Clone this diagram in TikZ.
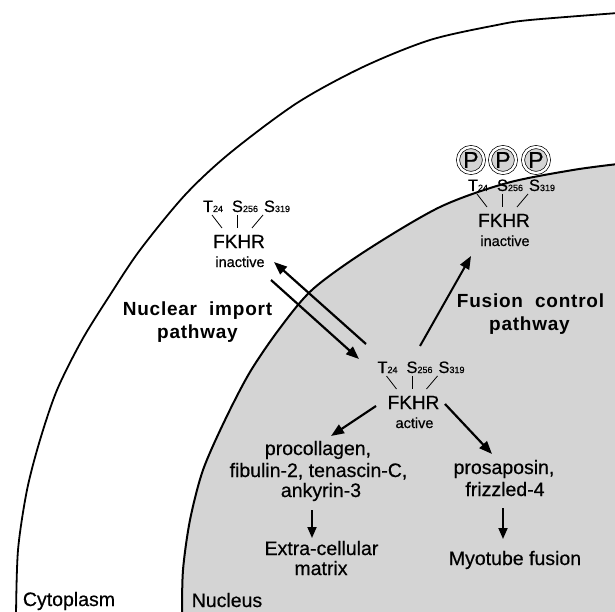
\documentclass[tikz,border=0pt]{standalone}
\usepackage{fontspec}
\setmainfont[FakeBold=0.5]{Liberation Sans}
\newfontfamily\trackfont[LetterSpace=4]{Liberation Sans}
\usetikzlibrary{arrows.meta,calc}
\definecolor{nucfill}{gray}{0.83}
\newcommand\fsz[1]{\fontsize{#1}{#1}\selectfont}
\newcommand\subnum[1]{{\fsz{9}#1}}
\newcommand\fkhrgroup[4]{%
  \node[fk] (#1F) at (#2,#3) {FKHR};
  \node[st] (#1A) at (#2+1,#3+19) {#4};
  \node[res] (#1T) at (#2-26,#3-36) {T\subnum{24}};
  \node[res] (#1S) at (#2+6,#3-36) {S\subnum{256}};
  \node[res] (#1R) at (#2+38,#3-36) {S\subnum{319}};
  \draw[resline] ($(#1T.base)+(-1,3)$) -- ($(#1F.base)+(-17,-20)$);
  \draw[resline] ($(#1S.base)+(-7.5,3)$) -- ($(#1F.base)+(-1.5,-20)$);
  \draw[resline] ($(#1R.base)+(-14,3)$) -- ($(#1F.base)+(13,-20)$);
}
\begin{document}
\begin{tikzpicture}[x=1pt,y=-1pt,
  txt/.style={inner sep=0pt, anchor=base, font=\fsz{19.5}},
  fk/.style={txt, font=\fsz{19}},
  st/.style={txt, font=\fsz{14.5}},
  res/.style={txt, font=\fsz{16.5}},
  resline/.style={line width=0.8pt},
  arr/.style={line width=2.2pt, -{Triangle[length=13pt,width=10pt]}},
  sarr/.style={line width=1.8pt, -{Triangle[length=11pt,width=9pt]}},
  pth/.style={txt, font=\trackfont\fsz{19}\bfseries},
  pcirc/.style={circle, draw=black, line width=0.7pt, double=white, double distance=2.4pt,
                fill=nucfill, minimum size=26pt, inner sep=0pt, font=\fsz{23}}]
\useasboundingbox (0,0) rectangle (615,612);
\fill[white] (0,0) rectangle (615,612);
\begin{scope}
\clip (0,0) rectangle (615,612);
\fill[nucfill] plot[smooth] coordinates {(182,616) (183,570) (190,520) (203,470) (225,420) (250,372) (280,328) (313,289) (367,250) (440,207) (507,183) (573,170) (618,164)} -- (620,620) -- cycle;
\draw[line width=2pt] plot[smooth] coordinates {(182,616) (183,570) (190,520) (203,470) (225,420) (250,372) (280,328) (313,289) (367,250) (440,207) (507,183) (573,170) (618,164)};
\draw[line width=1.8pt] plot[smooth] coordinates {(16,616) (18,550) (27,490) (40,440) (57,390) (82,340) (110,295) (140,250) (185,195) (230,153) (297,103) (363,67) (430,40) (497,25) (530,20) (618,13)};
\end{scope}

% FKHR groups
\fkhrgroup{l}{239}{248}{inactive}
\fkhrgroup{r}{504}{227}{inactive}
\fkhrgroup{c}{413.5}{409}{active}

% phosphate circles
\node[pcirc] (p1) at (471,160) {P};
\node[pcirc] (p2) at (503,160) {P};
\node[pcirc] (p3) at (536,160) {P};

% pathway labels
\node[pth] (ni1) at (197.5,315) {Nuclear\ \ import};
\node[pth] (ni2) at (197.5,338) {pathway};
\node[pth] (fc1) at (530.5,307) {Fusion\ \ control};
\node[pth] (fc2) at (529.5,330) {pathway};

% target genes
\node[txt] (pc1) at (318,455) {procollagen,};
\node[txt] (pc2) at (318.5,477) {fibulin-2, tenascin-C,};
\node[txt] (pc3) at (321,497) {ankyrin-3};
\node[txt] (ecm1) at (321.5,555) {Extra-cellular};
\node[txt] (ecm2) at (321,575) {matrix};
\node[txt] (ps1) at (504,474) {prosaposin,};
\node[txt] (ps2) at (505,496) {frizzled-4};
\node[txt] (myo) at (515,565) {Myotube fusion};
\node[txt] (cyt) at (69,606) {Cytoplasm};
\node[txt] (nuc) at (227,607) {Nucleus};

% arrows
\coordinate (i1s) at (366,344); \coordinate (i1e) at (274,262);
\coordinate (i2s) at (271,280); \coordinate (i2e) at (359,359);
\coordinate (fus) at (420,346); \coordinate (fue) at (471,256);
\coordinate (a1s) at (376,406); \coordinate (a1e) at (331,436);
\coordinate (a2s) at (445,404); \coordinate (a2e) at (492,454);
\coordinate (e1s) at (312,510); \coordinate (e1e) at (312,538);
\coordinate (m1s) at (503,508); \coordinate (m1e) at (503,539);
\draw[arr] (i1s) -- (i1e);
\draw[arr] (i2s) -- (i2e);
\draw[arr, line width=2pt] (fus) -- (fue);
\draw[arr] (a1s) -- (a1e);
\draw[arr] (a2s) -- (a2e);
\draw[sarr] (e1s) -- (e1e);
\draw[sarr] (m1s) -- (m1e);
\end{tikzpicture}
\end{document}
